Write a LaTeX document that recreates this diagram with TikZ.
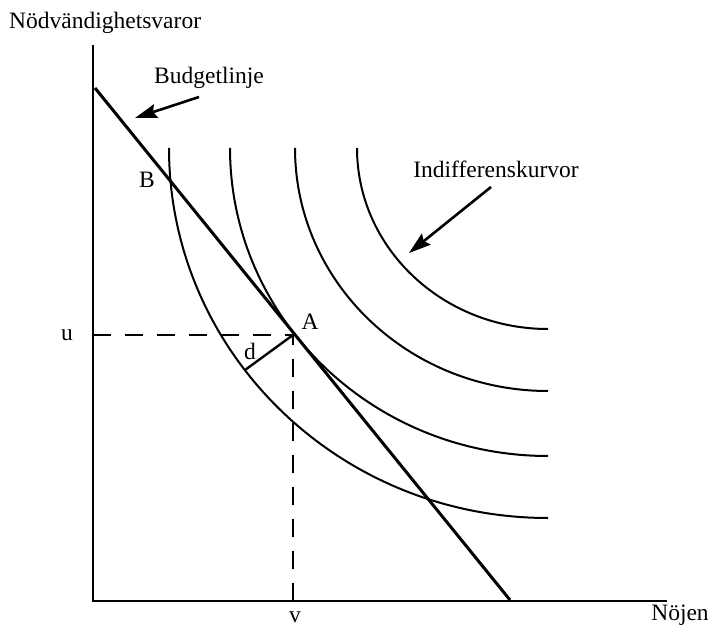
\documentclass[tikz,border=0pt]{standalone}
\usepackage{fontspec}
\setmainfont{Liberation Serif}
\usetikzlibrary{arrows.meta}
\begin{document}
\begin{tikzpicture}[x=1pt,y=1pt,
  axis/.style={line width=2.4pt},
  budget/.style={line width=3pt},
  curve/.style={line width=2pt},
  guide/.style={line width=2.3pt, dash pattern=on 18pt off 14pt},
  pointer/.style={line width=2.6pt, -{Stealth[length=22pt,width=14pt,inset=3pt]}},
  lbl/.style={inner sep=0pt, font=\fontsize{23.5}{28}\selectfont}]
\useasboundingbox (0,0) rectangle (708,626);
% axes
\coordinate (O) at (93,25);
\coordinate (Ytop) at (93,581);
\coordinate (Xend) at (667,25);
\draw[axis] (Ytop) -- (O) -- (Xend);
% indifference curves (ellipse arcs centred at (548,478))
\coordinate (C) at (548,478);
\draw[curve] (169,478) arc[start angle=180, end angle=270, x radius=379, y radius=370];
\draw[curve] (230,478) arc[start angle=180, end angle=270, x radius=318, y radius=308];
\draw[curve] (295,478) arc[start angle=180, end angle=270, x radius=253, y radius=243];
\draw[curve] (357,478) arc[start angle=180, end angle=270, x radius=191, y radius=181];
% budget line
\coordinate (Btop) at (95,538);
\coordinate (Bend) at (510,26);
\draw[budget] (Btop) -- (Bend);
% point A and guides
\coordinate (A) at (293,291);
\coordinate (Au) at (93,291);
\coordinate (Av) at (293,25);
\draw[guide] (Au) -- (A);
\draw[guide] (Av) -- (A);
% d segment
\coordinate (D) at (245,256);
\draw[line width=2.4pt] (A) -- (D);
% labels
\node[lbl, anchor=west] (ny) at (9,603) {Nödvändighetsvaror};
\node[lbl] (nx) at (680,11) {Nöjen};
\node[lbl] (nu) at (67,291) {u};
\node[lbl] (nv) at (295,9) {v};
\node[lbl] (nA) at (310,304) {A};
\node[lbl] (nB) at (147,446) {B};
\node[lbl] (nd) at (250,275) {d};
\node[lbl] (nbud) at (209,548) {Budgetlinje};
\node[lbl] (nind) at (496,457) {Indifferenskurvor};
% pointers
\coordinate (pb1) at (199,529);
\coordinate (pb2) at (135,508);
\draw[pointer] (pb1) -- (pb2);
\coordinate (pi1) at (491,439);
\coordinate (pi2) at (409,373);
\draw[pointer] (pi1) -- (pi2);
\end{tikzpicture}
\end{document}
